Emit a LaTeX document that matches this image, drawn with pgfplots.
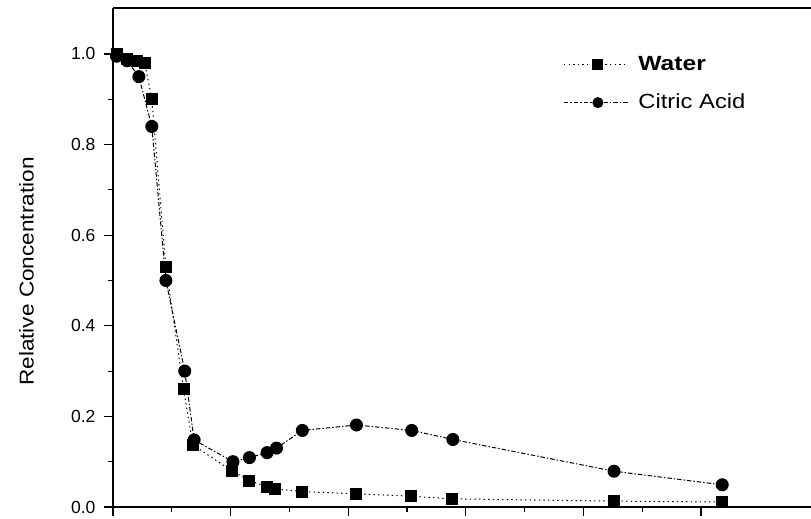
\documentclass[border=0pt]{standalone}
\usepackage{fontspec}
\setmainfont{Liberation Sans}
\usepackage{graphicx}
\usepackage{pgfplots}
\pgfplotsset{compat=1.18}
\begin{document}
\begin{tikzpicture}
\begin{axis}[
  name=ax,
  scale only axis,
  width=698pt, height=499pt,
  xmin=0, xmax=5.935,
  ymin=0, ymax=1.1015,
  axis x line*=box,
  axis y line*=left,
  axis line style={line width=1.3pt},
  every tick/.style={line width=1.1pt, black},
  tick align=outside,
  xtick={0,1,2,3,4,5},
  minor x tick num=1,
  xticklabels={},
  xtick pos=bottom,
  ytick={0,0.2,0.4,0.6,0.8,1.0},
  minor y tick num=1,
  ytick pos=left,
  major tick length=9pt,
  minor tick length=5pt,
  yticklabel style={/pgf/number format/fixed, /pgf/number format/fixed zerofill, /pgf/number format/precision=1, font=\fontsize{17.5}{20}\selectfont, xshift=-5pt},
  /pgf/number format/assume math mode=true,
  ylabel={\scalebox{1.13}[1]{Relative Concentration}},
  ylabel style={at={(axis description cs:-0.124,0.472)}, anchor=center, font=\fontsize{20}{24}\selectfont},
  clip=false,
  legend style={draw=none, fill=none, at={(axis description cs:0.645,0.914)}, anchor=north west,
    font=\fontsize{20.5}{24}\selectfont, row sep=11pt, inner sep=0pt,
    nodes={text height=17pt, text depth=6pt},
    /tikz/every odd column/.style={column sep=8pt}},
  legend cell align=left,
  legend image code/.code={\draw[mark repeat=2,mark phase=2,mark size=5pt] plot coordinates {(0pt,0pt)(34pt,0pt)(64pt,0pt)};},
]
\addplot[black, line width=1pt, dash pattern=on 1.4pt off 3.2pt, mark=square*, mark size=5.5pt, mark options={solid}] coordinates {
(0.03,1.000)(0.12,0.990)(0.20,0.985)(0.27,0.980)(0.33,0.900)(0.45,0.530)(0.60,0.260)(0.68,0.137)
(1.01,0.080)(1.16,0.058)(1.31,0.045)(1.38,0.040)(1.61,0.034)(2.07,0.029)(2.53,0.024)(2.88,0.018)
(4.26,0.013)(5.18,0.011)};
\addlegendentry{\scalebox{1.2}[1]{\textbf{Water}}}
\addplot[black, line width=1pt, dash pattern=on 4.5pt off 2pt on 1.4pt off 2pt, mark=*, mark size=6pt, mark options={solid}] coordinates {
(0.03,0.995)(0.12,0.985)(0.22,0.950)(0.33,0.840)(0.45,0.500)(0.61,0.300)(0.69,0.148)
(1.02,0.100)(1.16,0.109)(1.31,0.120)(1.39,0.130)(1.61,0.169)(2.07,0.181)(2.54,0.169)(2.89,0.149)
(4.26,0.079)(5.18,0.049)};
\addlegendentry{\scalebox{1.16}[1]{Citric Acid}}
\end{axis}
\pgfresetboundingbox
\path[use as bounding box] ([xshift=-113pt,yshift=-12pt]ax.south west) rectangle ([yshift=8pt]ax.north east);
\end{tikzpicture}
\end{document}
